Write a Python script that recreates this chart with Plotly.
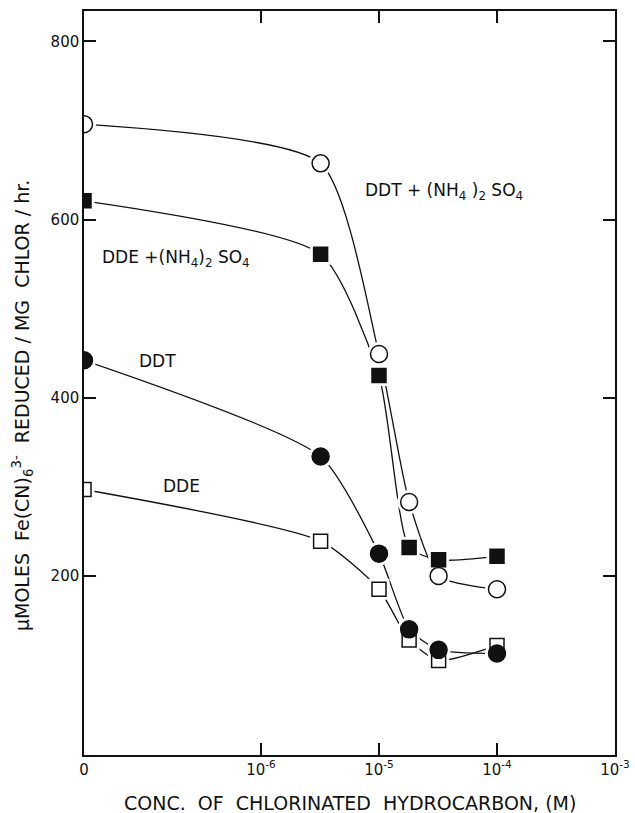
import numpy as np
import plotly.graph_objects as go

# ---- data ----
conc_M = [0.0, 3.2e-6, 1.0e-5, 1.8e-5, 3.2e-5, 1.0e-4]
ddt_as = [707, 663, 449, 283, 200, 185]     # DDT + (NH4)2SO4, open circles
dde_as = [621, 561, 425, 232, 218, 222]     # DDE + (NH4)2SO4, filled squares
ddt = [442, 334, 225, 140, 117, 113]        # DDT, filled circles
dde = [297, 239, 185, 128, 105, 122]        # DDE, open squares

x_tickvals_log = [-6, -5, -4, -3]
x_ticktext = ["10<sup>-6</sup>", "10<sup>-5</sup>", "10<sup>-4</sup>", "10<sup>-3</sup>"]
y_tickvals = [200, 400, 600, 800]

# ---- axis layout: log10 scale with a "0" position at the left edge ----
ZERO_POS = -7.5
X_RANGE = [ZERO_POS, -3]
Y_RANGE = [-1, 834]

def to_axis(c):
    return [ZERO_POS if v == 0 else float(np.log10(v)) for v in c]

xs = to_axis(conc_M)
FONT = "DejaVu Sans"
INK = "#111111"

series = [
    # name, values, symbol, filled, size
    ("DDT + (NH4)2SO4", ddt_as, "circle", False, 17),
    ("DDE + (NH4)2SO4", dde_as, "square", True, 14),
    ("DDE", dde, "square", False, 14),
    ("DDT", ddt, "circle", True, 17),
]

fig = go.Figure()

# curves
for name, vals, sym, filled, size in series:
    fig.add_trace(go.Scatter(
        x=xs, y=vals, mode="lines",
        line=dict(color=INK, width=1.3, shape="spline", smoothing=0.6),
        showlegend=False, hoverinfo="skip", cliponaxis=True))

# white halos to open gaps in curves around the markers
for name, vals, sym, filled, size in series:
    fig.add_trace(go.Scatter(
        x=xs, y=vals, mode="markers",
        marker=dict(symbol=sym, size=size + 7, color="white", line=dict(width=0)),
        showlegend=False, hoverinfo="skip", cliponaxis=True))

# markers
for name, vals, sym, filled, size in series:
    fig.add_trace(go.Scatter(
        x=xs, y=vals, mode="markers", name=name,
        marker=dict(symbol=sym, size=size,
                    color=INK if filled else "white",
                    line=dict(color=INK, width=1.5)),
        showlegend=False, cliponaxis=True))

annots = [
    dict(x=-5.136, y=631, text="DDT + (NH<sub>4</sub> )<sub>2</sub> SO<sub>4</sub>", xanchor="left"),
    dict(x=-7.364, y=556, text="DDE +(NH<sub>4</sub>)<sub>2</sub> SO<sub>4</sub>", xanchor="left"),
    dict(x=-6.873, y=441, text="DDT", xanchor="center"),
    dict(x=-6.678, y=301, text="DDE", xanchor="center"),
]
for a in annots:
    fig.add_annotation(x=a["x"], y=a["y"], text=a["text"], xref="x", yref="y",
                       xanchor=a["xanchor"], yanchor="middle", showarrow=False,
                       font=dict(family=FONT, size=17, color=INK))

# axis titles
fig.add_annotation(x=0.5, y=0, xref="paper", yref="paper", yshift=-48,
                   text="CONC.  OF  CHLORINATED  HYDROCARBON, (M)",
                   showarrow=False, xanchor="center", yanchor="middle",
                   font=dict(family=FONT, size=19, color=INK))
fig.add_annotation(x=0, y=0.469, xref="paper", yref="paper", xshift=-62,
                   text="\u03bcMOLES  Fe(CN)<sub>6</sub><sup>3-</sup>  REDUCED / MG  CHLOR / hr.",
                   textangle=-90, showarrow=False, xanchor="center", yanchor="middle",
                   font=dict(family=FONT, size=19, color=INK))

axis_common = dict(showline=True, linecolor=INK, linewidth=1.5, mirror="ticks",
                   ticks="inside", ticklen=12, tickwidth=1.5, tickcolor=INK,
                   showgrid=False, zeroline=False, automargin=False,
                   tickfont=dict(family=FONT, size=15, color=INK))

fig.update_xaxes(range=X_RANGE,
                 tickvals=[ZERO_POS] + x_tickvals_log,
                 ticktext=["0"] + x_ticktext, **axis_common)
fig.update_yaxes(range=Y_RANGE, tickvals=y_tickvals,
                 ticktext=[str(v) for v in y_tickvals], **axis_common)

fig.update_layout(
    width=635, height=813,
    margin=dict(l=84, r=20, t=11, b=58),
    paper_bgcolor="white", plot_bgcolor="white",
    font=dict(family=FONT, color=INK),
    showlegend=False,
)

fig.write_html("out.html",
               config={"displayModeBar": False},
               post_script="document.body.style.margin='0';document.body.style.overflow='hidden';")
